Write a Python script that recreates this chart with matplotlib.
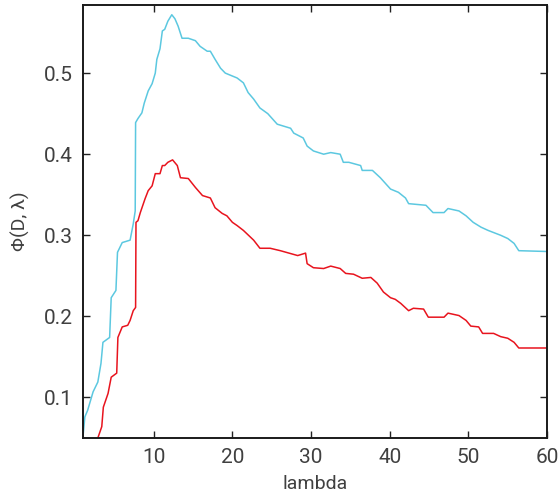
import matplotlib
matplotlib.use("Agg")
from matplotlib import pyplot as plt

# cyan curve (lambda, phi)
cyan_x = [1.0, 1.25, 1.6, 2.3, 2.9, 3.3, 3.55, 4.4, 4.6, 5.2, 5.4, 6.0, 7.0, 7.4, 7.65,
          7.7, 8.0, 8.5, 8.8, 9.3, 9.8, 10.2, 10.4, 10.8, 11.1, 11.4, 11.8, 12.3, 12.7,
          13.1, 13.6, 14.4, 15.3, 15.9, 16.8, 17.2, 17.8, 18.5, 19.1, 20.6, 21.4, 22.0,
          22.7, 23.5, 24.5, 25.7, 27.4, 27.8, 29.0, 29.5, 30.3, 31.6, 32.5, 33.7, 34.1,
          34.8, 36.3, 36.5, 37.8, 38.8, 40.1, 41.1, 42.0, 42.4, 44.6, 45.5, 46.9, 47.4,
          48.8, 49.7, 50.6, 51.6, 52.5, 54.1, 55.0, 55.8, 56.4, 60.0]
cyan_y = [0.050, 0.076, 0.084, 0.107, 0.119, 0.142, 0.168, 0.174, 0.223, 0.232, 0.279,
          0.291, 0.294, 0.314, 0.330, 0.439, 0.444, 0.451, 0.463, 0.478, 0.487, 0.500,
          0.517, 0.530, 0.552, 0.554, 0.564, 0.572, 0.567, 0.558, 0.543, 0.543, 0.540,
          0.533, 0.527, 0.527, 0.517, 0.506, 0.500, 0.494, 0.488, 0.476, 0.468, 0.457,
          0.450, 0.437, 0.432, 0.426, 0.420, 0.410, 0.404, 0.400, 0.402, 0.400, 0.390,
          0.390, 0.386, 0.380, 0.380, 0.371, 0.357, 0.353, 0.346, 0.339, 0.337, 0.328,
          0.328, 0.333, 0.330, 0.324, 0.316, 0.310, 0.306, 0.300, 0.296, 0.290, 0.281,
          0.280]

# red curve
red_x = [2.9, 3.4, 3.6, 4.2, 4.6, 5.3, 5.45, 6.0, 6.7, 7.0, 7.4, 7.7, 7.75, 8.0, 8.3,
         8.9, 9.3, 9.8, 10.2, 10.8, 11.1, 11.4, 11.8, 12.4, 13.0, 13.4, 14.4, 15.3, 16.2,
         17.2, 17.8, 18.7, 19.3, 20.0, 20.6, 21.4, 22.7, 23.5, 24.8, 26.1, 28.3, 29.3,
         29.5, 30.3, 31.6, 32.5, 33.7, 34.4, 35.4, 36.5, 37.6, 38.4, 39.2, 40.1, 40.7,
         41.4, 42.4, 43.0, 44.3, 44.9, 46.9, 47.4, 48.8, 49.7, 50.3, 51.3, 51.8, 53.2,
         54.1, 55.0, 55.8, 56.4, 60.0]
red_y = [0.050, 0.064, 0.088, 0.105, 0.125, 0.130, 0.174, 0.187, 0.189, 0.195, 0.207,
         0.211, 0.316, 0.318, 0.328, 0.345, 0.355, 0.361, 0.376, 0.376, 0.386, 0.386,
         0.390, 0.393, 0.386, 0.371, 0.370, 0.359, 0.349, 0.346, 0.334, 0.327, 0.324,
         0.316, 0.312, 0.306, 0.294, 0.284, 0.284, 0.281, 0.275, 0.278, 0.265, 0.260,
         0.259, 0.262, 0.259, 0.253, 0.252, 0.247, 0.248, 0.241, 0.230, 0.223, 0.221,
         0.216, 0.207, 0.210, 0.209, 0.199, 0.199, 0.204, 0.201, 0.195, 0.188, 0.187,
         0.179, 0.179, 0.175, 0.173, 0.168, 0.161, 0.161]

xticks = [10, 20, 30, 40, 50, 60]
yticks = [0.1, 0.2, 0.3, 0.4, 0.5]

plt.rcParams['font.family'] = ['Roboto', 'DejaVu Sans']
txt = '#404040'

fig = plt.figure(figsize=(5.6, 5.0), dpi=100)
ax = fig.add_axes([0.148, 0.124, 0.829, 0.866])

ax.plot(cyan_x, cyan_y, color='#5cc8e0', lw=1.1)
ax.plot(red_x, red_y, color='#e8141e', lw=1.1)

ax.set_xlim(1, 60)
ax.set_ylim(0.05, 0.584)
ax.set_xticks(xticks)
ax.set_yticks(yticks)
ax.set_xticklabels([str(t) for t in xticks])
ax.set_yticklabels([str(t) for t in yticks])
ax.tick_params(direction='in', length=5, width=1, top=True, right=True,
               labelsize=15, labelcolor=txt, color='#222222', pad=7)
for s in ax.spines.values():
    s.set_linewidth(1.4)
    s.set_color('#1a1a1a')

ax.set_xlabel('lambda', fontsize=14, color=txt, labelpad=6)
ax.set_ylabel('Φ(D, λ)', fontsize=14, color=txt, labelpad=10)

fig.savefig('out.png', dpi=100)
